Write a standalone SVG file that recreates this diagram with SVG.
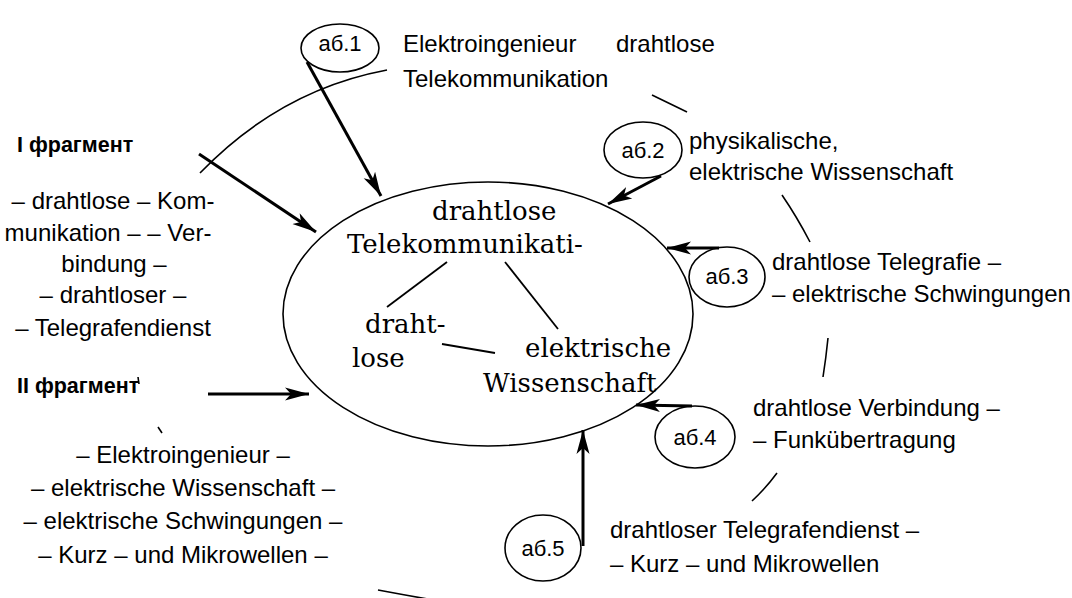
<svg xmlns="http://www.w3.org/2000/svg" width="1072" height="598" viewBox="0 0 1072 598">
<defs>
<style>
.t{font-family:"Liberation Sans",Arial,sans-serif;font-size:24px;fill:#000}
.b{font-family:"Liberation Sans",Arial,sans-serif;font-size:21.5px;font-weight:bold;fill:#000}
.s{font-family:"DejaVu Serif","Liberation Serif",serif;font-size:26px;fill:#000}
.lab{font-family:"Liberation Sans",Arial,sans-serif;font-size:22px;fill:#000;text-anchor:middle}
.ov{fill:none;stroke:#000;stroke-width:1.6}
.arc{fill:none;stroke:#000;stroke-width:1.6}
.ar{fill:none;stroke:#000;stroke-width:3;marker-end:url(#ah)}
.ln{fill:none;stroke:#000;stroke-width:1.8}
</style>
<marker id="ah" markerUnits="userSpaceOnUse" markerWidth="26" markerHeight="16" refX="24" refY="7" orient="auto" viewBox="0 0 26 14">
<path d="M0,0.5 L24,7 L0,13.5 L6,7 Z" fill="#000"/>
</marker>
</defs>

<g id="outer-circle">
<path class="arc" d="M200,173 Q280,90 387,70"/>
<path class="arc" d="M652,95 L687,112"/>
<path class="arc" d="M782,195 Q797,217 810,242"/>
<path class="arc" d="M828,338 Q826,358 823,377"/>
<path class="arc" d="M777,473 Q766,488 752,501"/>
<path class="arc" d="M378,590 Q410,596 445,602"/>
<path class="arc" d="M138,377 L139,384"/>
<path class="arc" d="M158,427 L162,433"/>
</g>

<g id="center">
<ellipse class="ov" cx="488" cy="314" rx="205" ry="132"/>
<text class="s" x="432" y="220">drahtlose</text>
<text class="s" x="347" y="253">Telekommunikati-</text>
<text class="s" x="365" y="333">draht-</text>
<text class="s" x="352" y="367">lose</text>
<text class="s" x="525" y="357">elektrische</text>
<text class="s" x="483" y="392">Wissenschaft</text>
</g>

<g id="ab1"><ellipse class="ov" cx="340" cy="48" rx="39" ry="24"/><text class="lab" x="340" y="51">аб.1</text></g>
<g id="ab2"><ellipse class="ov" cx="643" cy="150" rx="39" ry="28"/><text class="lab" x="643" y="158">аб.2</text></g>
<g id="ab3"><ellipse class="ov" cx="727" cy="277" rx="38" ry="30"/><text class="lab" x="727" y="284">аб.3</text></g>
<g id="ab4"><ellipse class="ov" cx="695" cy="437" rx="40" ry="31"/><text class="lab" x="695" y="445">аб.4</text></g>
<g id="ab5"><ellipse class="ov" cx="543" cy="548" rx="38" ry="33"/><text class="lab" x="543" y="556">аб.5</text></g>

<g id="top-text">
<text class="t" x="403" y="52">Elektroingenieur</text>
<text class="t" x="616" y="52">drahtlose</text>
<text class="t" x="403" y="87">Telekommunikation</text>
</g>
<g id="t2">
<text class="t" x="689" y="149">physikalische,</text>
<text class="t" x="689" y="180">elektrische Wissenschaft</text>
</g>
<g id="t3">
<text class="t" x="772" y="270">drahtlose Telegrafie –</text>
<text class="t" x="772" y="302">– elektrische Schwingungen</text>
</g>
<g id="t4">
<text class="t" x="753" y="416">drahtlose Verbindung –</text>
<text class="t" x="753" y="448">– Funkübertragung</text>
</g>
<g id="t5">
<text class="t" x="610" y="538">drahtloser Telegrafendienst –</text>
<text class="t" x="610" y="572">– Kurz – und Mikrowellen</text>
</g>

<g id="frag1">
<text class="b" x="17" y="152">I фрагмент</text>
<g text-anchor="middle">
<text class="t" x="113" y="209">– drahtlose – Kom-</text>
<text class="t" x="108" y="241">munikation – – Ver-</text>
<text class="t" x="114" y="272">bindung –</text>
<text class="t" x="113" y="303">– drahtloser –</text>
<text class="t" x="113" y="336">– Telegrafendienst</text>
</g>
</g>
<g id="frag2">
<text class="b" x="17" y="393">II фрагмент</text>
<g text-anchor="middle">
<text class="t" x="183" y="463">– Elektroingenieur –</text>
<text class="t" x="183" y="496">– elektrische Wissenschaft –</text>
<text class="t" x="183" y="529">– elektrische Schwingungen –</text>
<text class="t" x="183" y="563">– Kurz – und Mikrowellen –</text>
</g>
</g>

<g id="connectors">
<line class="ar" x1="307" y1="62" x2="381" y2="196"/>
<line class="ar" x1="661" y1="176" x2="608" y2="204"/>
<line class="ar" x1="719" y1="248" x2="667" y2="248"/>
<line class="ar" x1="692" y1="406" x2="636" y2="405"/>
<line class="ar" x1="583" y1="546" x2="583" y2="430"/>
<line class="ar" x1="199" y1="154" x2="316" y2="232"/>
<line class="ar" x1="208" y1="394" x2="309" y2="394"/>
<line class="ln" x1="447" y1="262" x2="387" y2="307"/>
<line class="ln" x1="505" y1="262" x2="558" y2="329"/>
<line class="ln" x1="442" y1="344" x2="495" y2="353"/>
</g>
</svg>
